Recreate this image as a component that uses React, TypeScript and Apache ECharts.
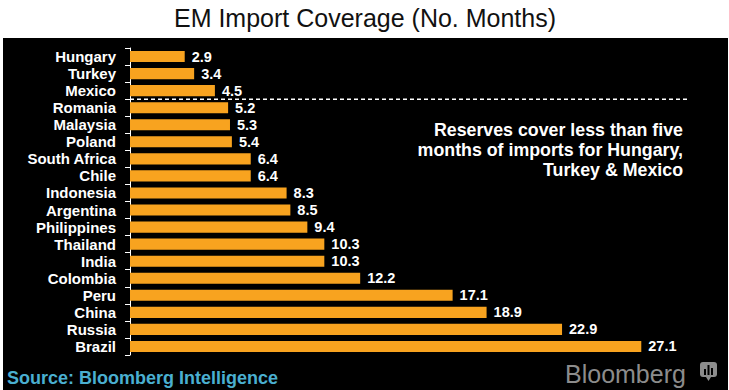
import React, { useEffect, useRef } from 'react';
import * as echarts from 'echarts';

const countries = ['Hungary', 'Turkey', 'Mexico', 'Romania', 'Malaysia', 'Poland', 'South Africa', 'Chile', 'Indonesia', 'Argentina', 'Philippines', 'Thailand', 'India', 'Colombia', 'Peru', 'China', 'Russia', 'Brazil'];
const coverage = [2.9, 3.4, 4.5, 5.2, 5.3, 5.4, 6.4, 6.4, 8.3, 8.5, 9.4, 10.3, 10.3, 12.2, 17.1, 18.9, 22.9, 27.1];
const titleText = 'EM Import Coverage (No. Months)';
const noteLines = ['Reserves cover less than five', 'months of imports for Hungary,', 'Turkey & Mexico'];
const sourceText = 'Source: Bloomberg Intelligence';
const brandText = 'Bloomberg';
const thresholdAbove = 'Mexico';
const thresholdBelow = 'Romania';
const xMax = 30;
const dashEnd = 29.6;

const FONT = '"Liberation Sans", Arial, Helvetica, sans-serif';
const BAR = '#f8a31f';

export default function App() {
  const ref = useRef<HTMLDivElement>(null);
  useEffect(() => {
    if (!ref.current) return;
    const chart = echarts.init(ref.current, null, { renderer: 'svg' });

    const baseGraphic: any[] = [
      { id: 'bg', type: 'rect', z: -10, silent: true, shape: { x: 3, y: 38, width: 725, height: 352 }, style: { fill: '#000' } },
      { id: 'title', type: 'text', x: 365, y: 18, style: { text: titleText, font: `25px ${FONT}`, fill: '#111', align: 'center', verticalAlign: 'middle' } },
      { id: 'note', type: 'text', x: 683, y: 120, style: { text: noteLines.join('\n'), font: `bold 17.8px ${FONT}`, fill: '#fff', align: 'right', verticalAlign: 'top', lineHeight: 20 } },
      { id: 'source', type: 'text', x: 7, y: 378, style: { text: sourceText, font: `bold 18px ${FONT}`, fill: '#4aafd0', align: 'left', verticalAlign: 'middle' } },
      { id: 'brand', type: 'text', x: 565, y: 374, style: { text: brandText, font: `25px ${FONT}`, fill: '#8c8c8c', align: 'left', verticalAlign: 'middle' } },
      {
        id: 'icon', type: 'group', x: 700, y: 362,
        children: [
          { type: 'rect', shape: { x: 0, y: 0, width: 17, height: 15, r: 3 }, style: { fill: '#8c8c8c' } },
          { type: 'polygon', shape: { points: [[6, 15], [11, 15], [8.5, 19]] }, style: { fill: '#8c8c8c' } },
          { type: 'rect', shape: { x: 4, y: 7, width: 2, height: 6 }, style: { fill: '#000' } },
          { type: 'rect', shape: { x: 7.5, y: 3, width: 2, height: 10 }, style: { fill: '#000' } },
          { type: 'rect', shape: { x: 11, y: 6, width: 2, height: 7 }, style: { fill: '#000' } },
        ],
      },
    ];

    chart.setOption({
      animation: false,
      backgroundColor: '#fff',
      grid: { left: 130, top: 48, width: 566, height: 307, containLabel: false },
      xAxis: { type: 'value', min: 0, max: xMax, show: false, splitLine: { show: false } },
      yAxis: {
        type: 'category',
        inverse: true,
        data: countries,
        axisLine: { show: true, lineStyle: { color: '#fff', width: 1 } },
        axisTick: { show: true, length: 5, interval: 0, lineStyle: { color: '#fff' } },
        axisLabel: { color: '#fff', fontSize: 15, fontWeight: 'bold', fontFamily: FONT, margin: 14, interval: 0 },
        splitLine: { show: false },
      },
      series: [
        {
          type: 'bar',
          data: coverage,
          barCategoryGap: '35%',
          itemStyle: { color: BAR },
          label: {
            show: true,
            position: 'right',
            distance: 7,
            color: '#fff',
            fontSize: 14.5,
            fontWeight: 'bold',
            fontFamily: FONT,
            formatter: (p: any) => Number(p.value).toFixed(1),
          },
        },
      ],
      graphic: baseGraphic,
    });

    const a = chart.convertToPixel({ gridIndex: 0 }, [0, thresholdAbove]) as number[];
    const b = chart.convertToPixel({ gridIndex: 0 }, [0, thresholdBelow]) as number[];
    const e = chart.convertToPixel({ gridIndex: 0 }, [dashEnd, thresholdBelow]) as number[];
    const yMid = (a[1] + b[1]) / 2;
    chart.setOption({
      graphic: [
        ...baseGraphic,
        { id: 'dash', type: 'line', z: 10, shape: { x1: a[0], y1: yMid, x2: e[0], y2: yMid }, style: { stroke: '#fff', lineWidth: 1.5, lineDash: [4, 3] } },
      ],
    });

    return () => chart.dispose();
  }, []);
  return <div ref={ref} style={{ position: 'fixed', left: 0, top: 0, width: 729, height: 390 }} />;
}
